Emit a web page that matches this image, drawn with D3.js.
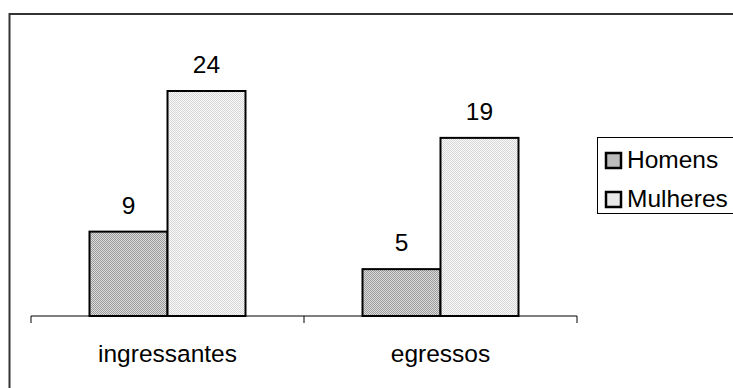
<!DOCTYPE html>
<html>
<head>
  <script src="https://cdn.jsdelivr.net/npm/d3@7"></script>
  <style>
    body { margin: 0; background: #fff; }
    text { font-family: "Liberation Sans", Arial, sans-serif; fill: #000; }
  </style>
</head>
<body>
  <svg width="733" height="388" id="mainsvg"></svg>
  <script>
    // data
    const categories = ['ingressantes', 'egressos'];
    const seriesNames = ['Homens', 'Mulheres'];
    const homens = [9, 5];
    const mulheres = [24, 19];
    const values = [homens, mulheres];

    const svg = d3.select('#mainsvg');
    const fontSize = 24.5;

    // dotted fills like the old excel patterns
    const defs = svg.append('defs');
    const addPattern = (id, dark, light) => {
      const p = defs.append('pattern').attr('id', id)
        .attr('width', 2).attr('height', 2).attr('patternUnits', 'userSpaceOnUse');
      p.append('rect').attr('width', 2).attr('height', 2).attr('fill', light);
      p.append('rect').attr('width', 1).attr('height', 1).attr('fill', dark);
      p.append('rect').attr('x', 1).attr('y', 1).attr('width', 1).attr('height', 1).attr('fill', dark);
    };
    addPattern('patHomens', '#9a9a9a', '#dcdcdc');
    addPattern('patMulheres', '#d6d6d6', '#fafafa');
    const fills = ['url(#patHomens)', 'url(#patMulheres)'];

    // outer chart border (only left/top visible)
    svg.append('rect').attr('x', 9.5).attr('y', 14).attr('width', 740).attr('height', 400)
      .attr('fill', 'none').attr('stroke', '#333').attr('stroke-width', 2);

    const plotLeft = 31, plotRight = 577, baseY = 316, plotTop = 34.75;

    const xScale = d3.scaleBand().domain(categories).range([plotLeft, plotRight]);
    const innerScale = d3.scaleBand().domain(seriesNames).range([0, xScale.bandwidth()])
      .paddingInner(0).paddingOuter(0.75);
    const yScale = d3.scaleLinear().domain([0, 30]).range([baseY, plotTop]);

    const mainGroup = svg.append('g');

    // bars
    seriesNames.forEach((s, si) => {
      const rows = categories.map((c, ci) => ({cat: c, value: values[si][ci]}));
      const g = mainGroup.append('g');
      g.selectAll('rect').data(rows).join('rect')
        .attr('x', d => xScale(d.cat) + innerScale(s))
        .attr('y', d => yScale(d.value))
        .attr('width', innerScale.bandwidth())
        .attr('height', d => baseY - yScale(d.value))
        .attr('fill', fills[si]).attr('stroke', '#000').attr('stroke-width', 2);
      g.selectAll('text').data(rows).join('text')
        .attr('x', d => xScale(d.cat) + innerScale(s) + innerScale.bandwidth() / 2)
        .attr('y', d => yScale(d.value) - 18)
        .attr('text-anchor', 'middle').attr('font-size', fontSize)
        .text(d => d.value);
    });

    // category axis: line, boundary ticks, centred labels
    const xAxis = d3.axisBottom(xScale).tickSize(0).tickPadding(29);
    const xAxisGroup = mainGroup.append('g').attr('transform', `translate(0, ${baseY})`).call(xAxis);
    xAxisGroup.select('.domain').remove();
    xAxisGroup.selectAll('.tick text').attr('font-size', fontSize)
      .attr('font-family', '"Liberation Sans", Arial, sans-serif').attr('fill', '#000');
    const bounds = categories.map(c => xScale(c)).concat([plotRight]);
    xAxisGroup.append('line').attr('x1', plotLeft).attr('x2', plotRight)
      .attr('y1', 0).attr('y2', 0).attr('stroke', '#000').attr('stroke-width', 1);
    xAxisGroup.selectAll('.bound').data(bounds).join('line').attr('class', 'bound')
      .attr('x1', d => d).attr('x2', d => d).attr('y1', 0).attr('y2', 7)
      .attr('stroke', '#000').attr('stroke-width', 1);

    // legend
    const legend = svg.append('g').attr('transform', 'translate(597.5, 137.5)');
    legend.append('rect').attr('width', 160).attr('height', 76)
      .attr('fill', '#fff').attr('stroke', '#000').attr('stroke-width', 1);
    const items = legend.selectAll('.item').data(seriesNames).join('g').attr('class', 'item')
      .attr('transform', (d, i) => `translate(0, ${23.5 + i * 39})`);
    items.append('rect').attr('x', 8.5).attr('y', -8).attr('width', 15).attr('height', 15)
      .attr('fill', (d, i) => fills[i]).attr('stroke', '#000').attr('stroke-width', 2.5);
    items.append('text').attr('x', 29.5).attr('y', 7).attr('font-size', fontSize).text(d => d);
  </script>
</body>
</html>
